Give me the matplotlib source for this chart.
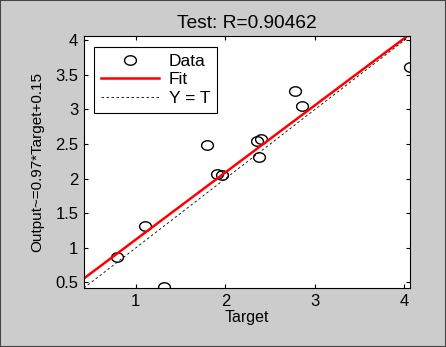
import numpy as np
import matplotlib
matplotlib.use("Agg")
import matplotlib.pyplot as plt
from matplotlib.patches import Rectangle
from matplotlib.path import Path

# 값은 그림에서 읽은 추정치
target = [0.79, 1.10, 1.32, 1.80, 1.91, 1.96, 2.35, 2.40, 2.37, 2.78, 2.86, 4.06]
output = [0.87, 1.32, 0.43, 2.49, 2.07, 2.06, 2.54, 2.57, 2.31, 3.27, 3.05, 3.62]
fit_a, fit_b = 0.97, 0.15
r_value = "0.90462"

plt.rcParams["font.family"] = ["Liberation Sans", "DejaVu Sans"]
plt.rcParams["font.size"] = 11.5

lo = min(min(target), min(output)) - 0.01
hi = max(max(target), max(output))
xs = np.array([lo, hi])

# 원본 그림이 가로로 늘어나 있어서 타원 마커 사용
t = np.linspace(0, 2 * np.pi, 60)
ell = Path(np.column_stack([np.cos(t), 0.8 * np.sin(t)]), closed=True)

fig = plt.figure(figsize=(4.46, 3.47), dpi=100, facecolor=(0.8, 0.8, 0.8))
fig.patches.append(Rectangle((0, 0), 1, 1, transform=fig.transFigure, fill=False,
                             edgecolor="#444444", lw=1.5))
ax = fig.add_axes([0.188, 0.170, 0.731, 0.726])
ax.plot(target, output, ls="none", marker=ell, mfc="none", mec="black", ms=8.5, mew=1.0, label="Data")
ax.plot(xs, fit_a * xs + fit_b, "-", color="red", lw=1.8, label="Fit")
ax.plot(xs, xs, "--", color="black", lw=0.6, dashes=(3, 3), label="Y = T")
ax.set_xlim(lo, hi); ax.set_ylim(lo, hi)
ax.set_xticks([1, 2, 3, 4]); ax.set_yticks([0.5, 1, 1.5, 2, 2.5, 3, 3.5, 4])
ax.set_yticklabels(["0.5", "1", "1.5", "2", "2.5", "3", "3.5", "4"])
ax.tick_params(direction="in", length=3, top=True, right=True, pad=4, labelsize=12)
ax.set_xlabel("Target", labelpad=1)
ax.set_ylabel(f"Output~={fit_a}*Target+{fit_b}", labelpad=8, fontsize=11)
ax.set_title(f"Test: R={r_value}", pad=6)
leg = ax.legend(loc="upper left", fancybox=False, framealpha=1, edgecolor="black",
                fontsize=12.5, borderaxespad=0.6, borderpad=0.4, handlelength=3.3,
                handletextpad=0.6, labelspacing=0.2)
leg.get_frame().set_linewidth(0.8)
fig.savefig("out.png", dpi=100, facecolor=fig.get_facecolor())
